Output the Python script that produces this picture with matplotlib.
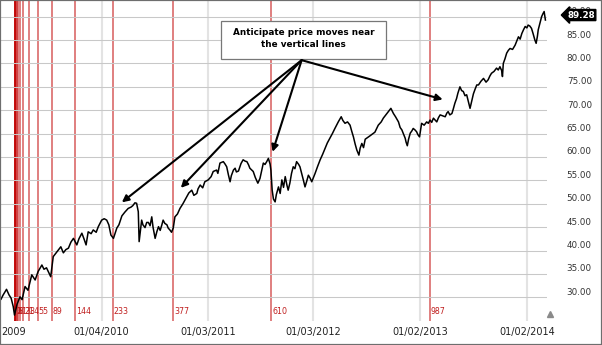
import matplotlib
matplotlib.use("Agg")
import matplotlib.pyplot as plt
from matplotlib.patches import Rectangle
from matplotlib.lines import Line2D

# bar number (0 = the March 2009 low) and closing price
bars = [-32, -27, -19, -13, -8, -3, 0, 6, 13, 18, 25, 32, 41, 49, 56, 65, 70, 76, 86, 92,
        99, 104, 110, 116, 122, 128, 134, 140, 148, 153, 160, 165, 170, 175, 182, 187, 194, 199, 207, 213,
        219, 224, 229, 235, 243, 248, 255, 262, 270, 277, 281, 286, 290, 294, 296, 302, 305, 310, 314, 318,
        322, 326, 329, 334, 338, 342, 346, 350, 353, 357, 362, 365, 369, 373, 377, 381, 387, 393, 400, 409,
        414, 421, 426, 433, 436, 441, 447, 452, 460, 467, 472, 480, 483, 488, 496, 500, 504, 508, 512, 515,
        520, 524, 527, 532, 538, 543, 548, 552, 556, 559, 567, 572, 578, 583, 587, 591, 595, 599, 603, 607,
        609, 612, 615, 619, 622, 627, 631, 635, 639, 643, 647, 650, 654, 658, 662, 666, 670, 675, 678, 682,
        686, 690, 694, 698, 702, 706, 710, 714, 720, 726, 732, 738, 743, 749, 755, 761, 769, 776, 780, 785,
        791, 797, 801, 805, 809, 813, 818, 821, 825, 829, 833, 844, 856, 864, 871, 876, 882, 888, 894, 900,
        905, 912, 916, 920, 924, 928, 930, 933, 936, 940, 944, 947, 951, 955, 958, 962, 964, 967, 973, 979,
        983, 987, 991, 995, 999, 1003, 1007, 1011, 1017, 1023, 1027, 1030, 1034, 1039, 1042, 1046, 1050, 1053, 1058, 1062,
        1066, 1070, 1074, 1078, 1082, 1086, 1090, 1094, 1098, 1102, 1108, 1114, 1120, 1125, 1129, 1133, 1139, 1145, 1149, 1153,
        1157, 1159, 1161, 1165, 1169, 1173, 1177, 1183, 1189, 1193, 1197, 1201, 1205, 1209, 1213, 1217, 1220, 1224, 1228, 1232,
        1236, 1239, 1242, 1244, 1248, 1252, 1255, 1258, 1261]
close = [29.6, 30.5, 31.7, 30.5, 29.8, 28.0, 26.2, 28.5, 30.1, 29.5, 32.3, 31.5, 34.8, 33.7, 35.5, 36.9, 36.0, 36.3, 34.4, 38.7,
         39.5, 40.1, 40.8, 39.5, 40.2, 40.5, 41.8, 42.6, 41.2, 42.5, 43.7, 42.5, 41.2, 44.0, 43.6, 44.4, 43.9, 45.1, 46.5, 46.8,
         46.5, 45.5, 43.3, 42.6, 44.8, 45.5, 47.4, 48.2, 49.0, 49.3, 49.6, 50.2, 50.1, 48.3, 41.9, 46.5, 45.5, 44.9, 46.0, 46.0,
         45.3, 47.2, 45.0, 42.6, 44.0, 45.1, 44.3, 45.5, 46.5, 45.8, 45.5, 44.8, 44.4, 43.9, 44.8, 47.2, 47.8, 49.0, 50.0, 51.5,
         52.3, 52.9, 51.8, 52.2, 53.2, 54.0, 53.4, 54.7, 55.1, 55.8, 56.9, 57.2, 56.5, 58.7, 59.0, 58.5, 57.9, 56.2, 54.7, 56.0,
         57.2, 57.6, 56.8, 57.0, 58.6, 59.4, 59.1, 59.0, 58.3, 57.6, 56.9, 55.6, 54.4, 55.4, 57.0, 58.7, 58.4, 59.0, 59.7, 58.5,
         57.2, 52.9, 51.0, 50.4, 52.0, 53.6, 52.2, 55.1, 53.5, 55.8, 54.0, 52.9, 54.4, 56.5, 57.9, 57.5, 59.0, 58.4, 57.9, 56.5,
         55.1, 53.6, 54.8, 56.1, 55.5, 54.7, 55.6, 56.5, 58.0, 59.4, 60.6, 61.9, 63.0, 64.0, 65.0, 66.1, 67.5, 68.6, 67.8, 67.2,
         67.5, 66.8, 65.5, 64.3, 62.8, 61.5, 60.4, 61.9, 62.9, 62.0, 63.8, 64.5, 65.3, 66.8, 67.5, 68.3, 69.0, 69.7, 70.4, 69.3,
         68.6, 67.5, 66.3, 65.8, 64.9, 64.0, 63.2, 62.4, 63.8, 65.1, 65.6, 66.1, 65.8, 65.4, 64.8, 64.3, 65.5, 67.2, 66.8, 67.5,
         67.2, 67.9, 67.4, 68.3, 67.9, 67.5, 68.4, 69.0, 68.8, 68.6, 69.4, 69.7, 69.0, 69.3, 70.2, 71.5, 72.5, 73.6, 75.0, 74.2,
         74.0, 73.1, 73.3, 71.8, 70.4, 72.0, 73.5, 74.5, 75.4, 75.4, 76.2, 76.8, 76.0, 76.5, 77.3, 77.9, 78.3, 79.0, 78.6, 79.3,
         78.5, 77.2, 80.0, 81.0, 82.2, 82.8, 83.2, 83.0, 83.9, 84.8, 85.7, 85.2, 86.4, 87.2, 87.9, 87.6, 88.2, 88.0, 87.5, 86.3,
         85.0, 84.3, 85.8, 87.2, 88.6, 90.0, 90.6, 91.1, 89.28]

fib = [0, 1, 1, 2, 3, 5, 8, 13, 21, 34, 55, 89, 144, 233, 377, 610, 987]

date_bars = [-3, 207, 460, 710, 963, 1217]
date_labels = ["2009", "01/04/2010", "01/03/2011", "01/03/2012", "01/02/2013", "01/02/2014"]

price_ticks = [30, 35, 40, 45, 50, 55, 60, 65, 70, 75, 80, 85, 90]
last_price = close[-1]

note = "Anticipate price moves near\nthe vertical lines"
note_from = (682, 80.7)
note_targets = [(255, 50.3), (395, 53.4), (613, 61.1), (1017, 72.3)]

fig = plt.figure(figsize=(6.02, 3.45), dpi=100)
ax = fig.add_axes([1 / 602, 24 / 345, 546 / 602, 320 / 345])
ax.set_xlim(-32.1, 1264.8)
ax.set_ylim(24.93, 93.35)

# grid
ax.set_yticks(price_ticks)
ax.grid(axis="y", color="#c8c8c8", lw=0.75, zorder=0)
for b in date_bars[1:]:
    ax.axvline(b, color="#e3e3e3", lw=1.5, zorder=0)

# fibonacci time zones (semi-transparent so the early cluster piles up darker)
for n in fib:
    ax.axvline(n, color="#c00000", alpha=0.5, lw=1.4, zorder=1)
for n in fib[1:]:
    ax.text(n + 2, 0.031, str(n), transform=ax.get_xaxis_transform(),
            fontsize=5.7, color="#c02020", ha="left", va="center")

# price
ax.plot(bars, close, color="black", lw=1.1, zorder=3)

# axes cosmetics
for s in ax.spines.values():
    s.set_visible(False)
ax.set_xticks(date_bars, date_labels)
ax.tick_params(axis="x", length=0, pad=4.5, labelsize=7, labelcolor="#222222")
ax.tick_params(axis="y", left=False, labelleft=False)
ax.set_facecolor("white")

for v in price_ticks:
    ax.annotate(f"{v:.2f}", xy=(1, v), xycoords=("axes fraction", "data"),
                xytext=(14.2, 3.6), textcoords="offset points",
                fontsize=6.3, color="#333333", ha="left", va="center")

ax.annotate(f"{last_price:.2f}", xy=(1, last_price), xycoords=("axes fraction", "data"),
            xytext=(14.5, 3.6), textcoords="offset points",
            fontsize=6.3, color="white", fontweight="bold", ha="left", va="center",
            bbox=dict(boxstyle="larrow,pad=0.12", fc="black", ec="black"), zorder=5)

# note with arrows
ax.add_patch(Rectangle((490, 80.9), 392, 8.25, fc="white", ec="#777777", lw=0.9, zorder=4))
ax.text(686, 85.35, note, ha="center", va="center", fontsize=6.4, fontweight="bold",
        linespacing=1.45, zorder=5)
for t in note_targets:
    ax.annotate("", xy=t, xytext=note_from,
                arrowprops=dict(arrowstyle="-|>", color="black", lw=1.5,
                                mutation_scale=10, shrinkA=0, shrinkB=0), zorder=4)

# little scroll marker and frame
fig.add_artist(Line2D([550 / 602], [1 - 314 / 345], marker="^", ms=5,
                      color="#8a8a8a", transform=fig.transFigure))
fig.add_artist(Rectangle((0, 0), 1, 1, transform=fig.transFigure, fill=False,
                         ec="#6e6e6e", lw=1.6))

fig.savefig("out.png", dpi=100)
